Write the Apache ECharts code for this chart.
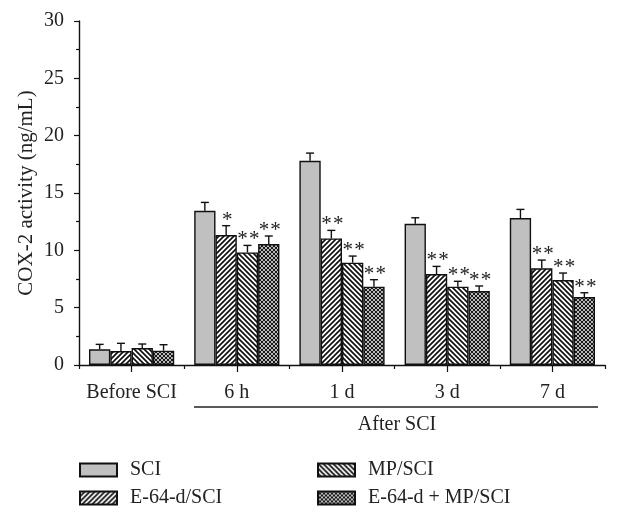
<!DOCTYPE html>
<html>
<head>
<meta charset="utf-8">
<script src="https://cdn.jsdelivr.net/npm/echarts@6/dist/echarts.min.js"></script>
<style>html,body{margin:0;padding:0;background:#fff;}#main{width:620px;height:521px;}</style>
</head>
<body>
<div id="main"></div>
<script>
const categories = ['Before SCI', '6 h', '1 d', '3 d', '7 d'];
const seriesNames = ['SCI', 'E-64-d/SCI', 'MP/SCI', 'E-64-d + MP/SCI'];
const yTicks = [0, 5, 10, 15, 20, 25, 30];

const sciValues  = [1.37, 13.45, 17.81, 12.32, 12.82];
const sciErrors  = [0.43, 0.73, 0.67, 0.52, 0.75];
const e64Values  = [1.22, 11.33, 11.04, 7.93, 8.43];
const e64Errors  = [0.67, 0.82, 0.70, 0.67, 0.72];
const mpValues   = [1.48, 9.82, 8.92, 6.83, 7.41];
const mpErrors   = [0.35, 0.61, 0.58, 0.47, 0.61];
const combValues = [1.25, 10.55, 6.83, 6.45, 5.93];
const combErrors = [0.52, 0.70, 0.61, 0.44, 0.37];

const sciStars  = ['', '', '', '', ''];
const e64Stars  = ['', '*', '**', '**', '**'];
const mpStars   = ['', '**', '**', '**', '**'];
const combStars = ['', '**', '**', '**', '**'];

const allValues = [sciValues, e64Values, mpValues, combValues];
const allErrors = [sciErrors, e64Errors, mpErrors, combErrors];
const allStars = [sciStars, e64Stars, mpStars, combStars];

const FONT = '"Liberation Serif", "DejaVu Serif", serif';
const CAT_GAP = 0.19;

function makePattern(kind) {
  const s = kind === 'cross' ? 4 : 5;
  const c = document.createElement('canvas');
  c.width = s; c.height = s;
  const ctx = c.getContext('2d');
  ctx.fillStyle = '#fff';
  ctx.fillRect(0, 0, s, s);
  ctx.strokeStyle = '#111';
  ctx.lineWidth = kind === 'cross' ? 1.1 : 1.7;
  function fwd() {
    ctx.beginPath();
    ctx.moveTo(-1, s + 1); ctx.lineTo(s + 1, -1);
    ctx.moveTo(-1, 1); ctx.lineTo(1, -1);
    ctx.moveTo(s - 1, s + 1); ctx.lineTo(s + 1, s - 1);
    ctx.stroke();
  }
  function back() {
    ctx.beginPath();
    ctx.moveTo(-1, -1); ctx.lineTo(s + 1, s + 1);
    ctx.moveTo(s - 1, -1); ctx.lineTo(s + 1, 1);
    ctx.moveTo(-1, s - 1); ctx.lineTo(1, s + 1);
    ctx.stroke();
  }
  if (kind === 'fwd') fwd();
  if (kind === 'back') back();
  if (kind === 'cross') { fwd(); back(); }
  return { image: c, repeat: 'repeat' };
}

const fills = ['#c0c0c0', makePattern('fwd'), makePattern('back'), makePattern('cross')];

const chart = echarts.init(document.getElementById('main'), null, { renderer: 'canvas' });

const series = [];
seriesNames.forEach((name, i) => {
  series.push({
    name: name,
    type: 'bar',
    xAxisIndex: 0,
    barGap: '0%',
    barCategoryGap: (CAT_GAP * 100) + '%',
    itemStyle: { color: fills[i], borderColor: '#111', borderWidth: 1.4 },
    emphasis: { disabled: true },
    data: allValues[i]
  });
});
seriesNames.forEach((name, i) => {
  series.push({
    type: 'custom',
    xAxisIndex: 0,
    z: 5,
    silent: true,
    data: categories.map((c, k) => [k, allValues[i][k], allErrors[i][k]]),
    renderItem: function (params, api) {
      const k = api.value(0);
      const v = api.value(1);
      const e = api.value(2);
      const base = api.coord([k, v]);
      const top = api.coord([k, v + e]);
      const catW = api.size([1, 0])[0];
      const groupW = catW * (1 - CAT_GAP);
      const bw = groupW / 4;
      const x = base[0] - groupW / 2 + (i + 0.5) * bw;
      const children = [
        { type: 'line', shape: { x1: x, y1: base[1], x2: x, y2: top[1] }, style: { stroke: '#111', lineWidth: 1.4 } },
        { type: 'line', shape: { x1: x - 4, y1: top[1], x2: x + 4, y2: top[1] }, style: { stroke: '#111', lineWidth: 1.4 } }
      ];
      const star = allStars[i][params.dataIndex];
      const n = star.length;
      const spacing = 11.7;
      for (let j = 0; j < n; j++) {
        const sx = x + 1 + (j - (n - 1) / 2) * spacing;
        children.push({
          type: 'text',
          style: {
            text: '*', x: sx, y: top[1] + 5,
            align: 'center', verticalAlign: 'bottom',
            font: '21px ' + FONT, fill: '#222'
          }
        });
      }
      return { type: 'group', children: children };
    }
  });
});

const legendText = { color: '#222', fontFamily: FONT, fontSize: 20, lineHeight: 20, padding: [0, 0, 0, 8] };

const option = {
  backgroundColor: '#fff',
  animation: false,
  grid: { left: 79, right: 15, top: 21, bottom: 156, containLabel: false, outerBoundsMode: 'none' },
  xAxis: [
    {
      type: 'category',
      data: categories,
      position: 'bottom',
      axisLine: { lineStyle: { color: '#111', width: 1.4 } },
      axisTick: { show: true, alignWithLabel: true, inside: false, length: 7, lineStyle: { color: '#111', width: 1.2 } },
      axisLabel: { color: '#222', fontFamily: FONT, fontSize: 20, margin: 18, interval: 0 },
      splitLine: { show: false }
    },
    {
      type: 'category',
      data: categories,
      position: 'bottom',
      axisLine: { show: false },
      axisTick: { show: true, alignWithLabel: false, inside: false, length: 4, lineStyle: { color: '#111', width: 1.2 } },
      axisLabel: { show: false },
      splitLine: { show: false }
    }
  ],
  yAxis: {
    type: 'value',
    min: yTicks[0],
    max: yTicks[yTicks.length - 1],
    interval: 5,
    name: 'COX-2 activity (ng/mL)',
    nameLocation: 'middle',
    nameGap: 42,
    nameMoveOverlap: false,
    nameTextStyle: { color: '#222', fontFamily: FONT, fontSize: 21 },
    axisLine: { show: true, lineStyle: { color: '#111', width: 1.4 } },
    axisTick: { show: true, length: 5, lineStyle: { color: '#111', width: 1.2 } },
    minorTick: { show: true, splitNumber: 2, length: 3, lineStyle: { color: '#111', width: 1.2 } },
    axisLabel: { color: '#222', fontFamily: FONT, fontSize: 20, margin: 15 },
    splitLine: { show: false }
  },
  legend: [
    {
      data: ['SCI', 'E-64-d/SCI'],
      orient: 'vertical',
      left: 79, top: 460, height: 60,
      padding: 0,
      itemWidth: 37, itemHeight: 13, itemGap: 8,
      selectedMode: false,
      icon: 'rect',
      textStyle: legendText
    },
    {
      data: ['MP/SCI', 'E-64-d + MP/SCI'],
      orient: 'vertical',
      left: 317, top: 460, height: 60,
      padding: 0,
      itemWidth: 37, itemHeight: 13, itemGap: 8,
      selectedMode: false,
      icon: 'rect',
      textStyle: legendText
    }
  ],
  graphic: [
    { type: 'line', shape: { x1: 194, y1: 407, x2: 598, y2: 407 }, style: { stroke: '#222', lineWidth: 1.5 } },
    { type: 'text', x: 397, y: 425, style: { text: 'After SCI', font: '20px ' + FONT, fill: '#222', align: 'center', verticalAlign: 'middle' } }
  ],
  series: series
};
chart.setOption(option);
</script>
</body>
</html>
